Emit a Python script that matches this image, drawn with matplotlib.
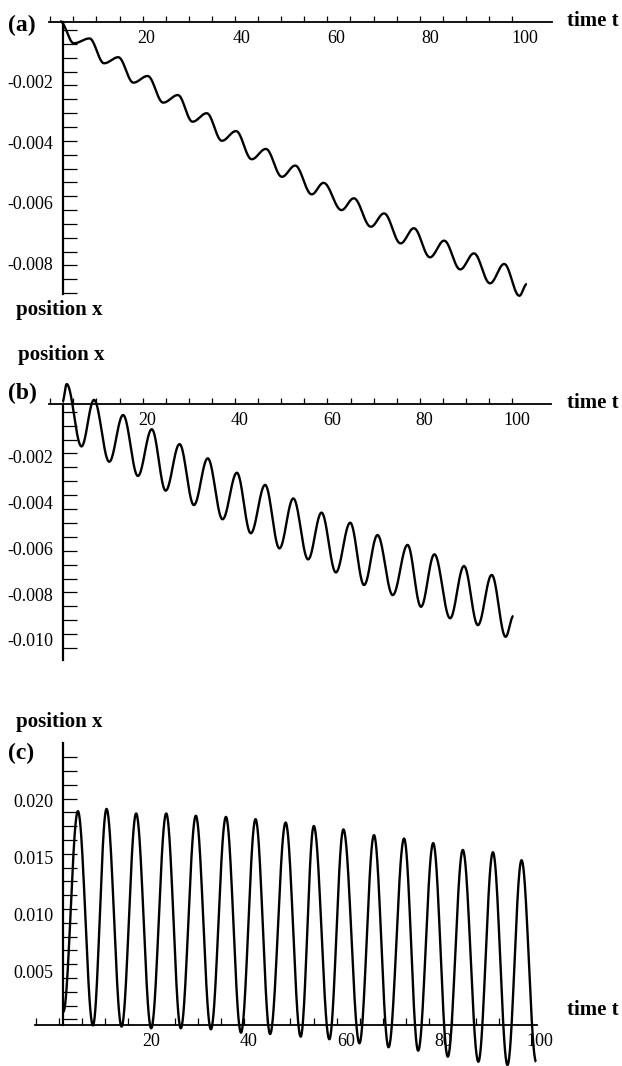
import numpy as np
import matplotlib
matplotlib.use("Agg")
import matplotlib.pyplot as plt
from matplotlib.ticker import FixedLocator, FixedFormatter

plt.rcParams["font.family"] = ["Liberation Serif", "DejaVu Serif"]

W, H = 622, 1066

# turning points of each curve (time t, position x in units of 1e-3)
t_a = [1.7, 4.6, 7.9, 11.0, 14.0, 17.2, 20.2, 23.5, 26.6, 29.7, 32.7, 35.9, 38.9, 42.2, 45.2, 48.6, 51.4,
       54.9, 57.4, 61.2, 63.8, 67.4, 70.2, 73.7, 76.5, 79.9, 82.9, 86.3, 89.2, 92.6, 95.6, 98.8, 100.4]
x_a = [0.0, -0.73, -0.57, -1.39, -1.19, -2.03, -1.81, -2.69, -2.44, -3.32, -3.04, -3.95, -3.63, -4.56, -4.22,
       -5.14, -4.77, -5.72, -5.34, -6.24, -5.85, -6.79, -6.35, -7.34, -6.84, -7.80, -7.25, -8.20, -7.67, -8.66,
       -8.02, -9.07, -8.68]

t_b = [1.8, 2.7, 5.9, 8.6, 11.9, 14.9, 18.1, 21.1, 24.1, 27.1, 30.2, 33.2, 36.4, 39.5, 42.5, 45.6, 48.7,
       51.7, 54.9, 57.8, 60.9, 64.0, 67.0, 69.9, 73.2, 76.4, 79.3, 82.2, 85.6, 88.6, 91.6, 94.6, 97.6, 99.3]
x_b = [0.39, 1.17, -1.55, 0.48, -2.22, -0.18, -2.84, -0.80, -3.48, -1.45, -4.11, -2.07, -4.73, -2.70, -5.34,
       -3.23, -6.00, -3.82, -6.48, -4.44, -7.05, -4.88, -7.60, -5.42, -8.04, -5.85, -8.55, -6.26, -9.05, -6.77,
       -9.35, -7.16, -9.86, -8.95]

t_c = [1.8, 4.8, 7.9, 10.7, 13.8, 16.8, 19.9, 23.0, 26.0, 29.1, 32.2, 35.3, 38.4, 41.4, 44.4, 47.6, 50.7,
       53.4, 56.6, 59.5, 62.8, 65.8, 68.8, 72.0, 74.9, 78.0, 81.0, 84.1, 87.3, 90.3, 93.3, 96.2, 99.2]
x_c = [1.5, 19.1, 0.3, 19.3, 0.2, 18.9, 0.05, 18.9, 0.05, 18.7, -0.04, 18.6, -0.33, 18.4, -0.45, 18.1, -0.68,
       17.8, -0.91, 17.5, -1.26, 17.0, -1.61, 16.7, -1.91, 16.3, -2.44, 15.7, -2.88, 15.5, -3.17, 14.8, -2.88]

t_labels = [20, 40, 60, 80, 100]
x_labels_ab = ["-0.002", "-0.004", "-0.006", "-0.008"]
x_labels_b = x_labels_ab + ["-0.010"]
x_labels_c = ["0.020", "0.015", "0.010", "0.005"]


def smooth(t, x, n=40):
    # join successive turning points with half-cosine arcs
    tt, xx = [], []
    s = np.linspace(0, 1, n, endpoint=False)
    w = (1 - np.cos(np.pi * s)) / 2
    for i in range(len(t) - 1):
        tt.append(t[i] + (t[i + 1] - t[i]) * s)
        xx.append(x[i] + (x[i + 1] - x[i]) * w)
    tt.append([t[-1]])
    xx.append([x[-1]])
    return np.concatenate(tt), np.concatenate(xx)


fig = plt.figure(figsize=(W / 100, H / 100), dpi=100)


def panel(t, x, ylab, yvals, cal, xaxis_py, yaxis_bounds, xaxis_bounds, xminor, yminor, tick_len):
    t0, ts, x0, xs = cal
    tp = lambda px: (px - t0) / ts
    xp = lambda py: (x0 - py) / xs
    ax = fig.add_axes([0, 0, 1, 1])
    ax.patch.set_alpha(0)
    ax.set_xlim(tp(0), tp(W))
    ax.set_ylim(xp(H), xp(0))
    tt, xx = smooth(t, np.array(x) * 1e-3)
    ax.plot(tt, xx, color="black", lw=1.7, solid_capstyle="butt")
    for s in ["top", "right"]:
        ax.spines[s].set_visible(False)
    ax.spines["left"].set_position(("data", tp(63)))
    ax.spines["left"].set_bounds(xp(yaxis_bounds[1]), xp(yaxis_bounds[0]))
    ax.spines["left"].set_linewidth(1.6)
    ax.spines["bottom"].set_position(("data", xp(xaxis_py)))
    ax.spines["bottom"].set_bounds(tp(xaxis_bounds[0]), tp(xaxis_bounds[1]))
    ax.spines["bottom"].set_linewidth(1.3)
    ax.xaxis.set_major_locator(FixedLocator(t_labels))
    ax.xaxis.set_major_formatter(FixedFormatter([str(v) for v in t_labels]))
    ax.xaxis.set_minor_locator(FixedLocator([tp(p) for p in xminor]))
    ax.yaxis.set_major_locator(FixedLocator(np.array(yvals) * 1e-3))
    ax.yaxis.set_major_formatter(FixedFormatter(ylab))
    ax.yaxis.set_minor_locator(FixedLocator([xp(p) for p in yminor]))
    ax.tick_params(which="major", length=0, labelsize=13)
    ax.tick_params(axis="x", which="major", pad=6)
    ax.tick_params(axis="y", which="major", pad=7)
    ax.tick_params(axis="x", which="minor", direction="in", length=tick_len, width=0.9)
    ax.tick_params(axis="y", which="minor", direction="in", length=10, width=0.9)
    return ax


panel(t_a, x_a, x_labels_ab, [-2, -4, -6, -8], (52.1, 4.729, 21.2, 30270),
      21.5, (21.5, 293.5), (49, 552),
      50.2 + 23.1 * np.arange(21), 30 + 13.85 * np.arange(20), 4.3)

panel(t_b, x_b, x_labels_b, [-2, -4, -6, -8, -10], (54.2, 4.625, 410.9, 22910),
      404, (404, 660), (49, 551),
      50.2 + 23.1 * np.arange(21), 411.7 + 13.9 * np.arange(18), 4.3)

panel(t_c, x_c, x_labels_c, [20, 15, 10, 5], (54.6, 4.854, 1028.9, 11400),
      1025, (742.7, 1025), (35, 537),
      35.9 + 23.14 * np.arange(21), 757.3 + 13.79 * np.arange(20), 5)


def label(px, py, s, size):
    fig.text(px / W, 1 - py / H, s, ha="left", va="center", fontsize=size, fontweight="bold")


label(8, 25, "(a)", 17)
label(567, 21, "time t", 15)
label(16, 310, "position x", 15)
label(18, 355, "position x", 15)
label(8, 393, "(b)", 17)
label(567, 403, "time t", 15)
label(16, 722, "position x", 15)
label(8, 753, "(c)", 17)
label(567, 1010, "time t", 15)

fig.savefig("out.png", dpi=100)
